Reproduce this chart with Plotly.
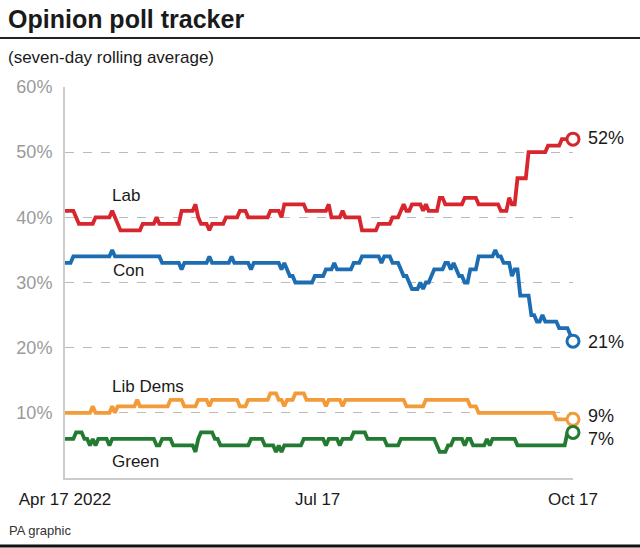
import pandas as pd
import plotly.graph_objects as go

# ---- data (seven-day rolling average, daily from 17 Apr 2022 to 17 Oct 2022) ----
start_date = "2022-04-17"
end_date = "2022-10-17"

lab = [
    41, 41, 41, 41, 40, 39, 39, 39, 39, 39,
    39, 40, 40, 40, 40, 40, 40, 41, 40, 39,
    38, 38, 38, 38, 38, 38, 38, 38, 39, 39,
    39, 39, 39, 40, 39, 39, 39, 39, 39, 39,
    39, 39, 41, 41, 41, 41, 41, 42, 40, 39,
    39, 39, 38, 39, 39, 39, 39, 39, 40, 40,
    40, 40, 40, 41, 41, 41, 40, 40, 40, 40,
    40, 40, 40, 40, 41, 41, 41, 41, 40, 42,
    42, 42, 42, 42, 42, 42, 42, 41, 41, 41,
    41, 41, 41, 41, 41, 42, 40, 40, 40, 40,
    41, 40, 40, 40, 40, 40, 40, 38, 38, 38,
    38, 38, 38, 39, 39, 39, 39, 39, 40, 40,
    40, 41, 42, 41, 41, 42, 42, 42, 42, 41,
    42, 41, 41, 41, 41, 43, 43, 42, 42, 42,
    42, 42, 42, 42, 43, 43, 43, 43, 43, 42,
    42, 42, 42, 42, 42, 42, 42, 41, 41, 41,
    43, 42, 42, 46, 46, 46, 46, 50, 50, 50,
    50, 50, 50, 50, 51, 51, 51, 51, 51, 52,
    52, 52, 52, 52,
]

con = [
    33, 33, 33, 34, 34, 34, 34, 34, 34, 34,
    34, 34, 34, 34, 34, 34, 34, 35, 34, 34,
    34, 34, 34, 34, 34, 34, 34, 34, 34, 34,
    34, 34, 34, 34, 34, 33, 33, 33, 33, 33,
    33, 33, 32, 33, 33, 33, 33, 33, 33, 33,
    33, 33, 34, 33, 33, 33, 33, 33, 33, 33,
    34, 33, 33, 33, 33, 33, 33, 32, 33, 33,
    33, 33, 33, 33, 33, 33, 33, 33, 32, 33,
    32, 31, 31, 30, 30, 30, 30, 30, 30, 30,
    31, 31, 31, 31, 32, 32, 32, 33, 32, 32,
    32, 32, 32, 32, 33, 33, 33, 34, 34, 34,
    34, 34, 34, 34, 33, 34, 34, 34, 33, 33,
    33, 32, 31, 31, 30, 29, 29, 29, 30, 29,
    30, 30, 31, 32, 32, 32, 32, 33, 33, 32,
    33, 32, 31, 31, 30, 30, 32, 32, 32, 34,
    34, 34, 34, 34, 34, 35, 34, 34, 33, 33,
    33, 31, 32, 32, 28, 28, 28, 28, 25, 25,
    24, 24, 25, 24, 24, 24, 24, 24, 23, 23,
    23, 23, 22, 21,
]

lib_dems = [
    10, 10, 10, 10, 10, 10, 10, 10, 10, 10,
    11, 10, 10, 10, 10, 10, 10, 11, 10, 11,
    11, 11, 11, 11, 11, 11, 12, 11, 11, 11,
    11, 11, 11, 11, 11, 11, 11, 11, 12, 12,
    12, 12, 12, 11, 11, 11, 11, 11, 12, 12,
    12, 12, 11, 12, 12, 12, 12, 12, 12, 12,
    12, 12, 12, 11, 11, 11, 12, 12, 12, 12,
    12, 12, 12, 12, 13, 13, 13, 12, 12, 11,
    12, 12, 12, 13, 13, 13, 13, 12, 12, 12,
    12, 12, 12, 12, 11, 12, 12, 12, 12, 12,
    11, 12, 12, 12, 12, 12, 12, 12, 12, 12,
    12, 12, 12, 12, 12, 12, 12, 12, 12, 12,
    12, 12, 12, 11, 11, 11, 11, 11, 11, 11,
    12, 12, 12, 12, 12, 12, 12, 12, 12, 12,
    12, 12, 12, 12, 12, 12, 11, 11, 11, 10,
    10, 10, 10, 10, 10, 10, 10, 10, 10, 10,
    10, 10, 10, 10, 10, 10, 10, 10, 10, 10,
    10, 10, 10, 10, 10, 10, 10, 9, 9, 9,
    9, 9, 9, 9,
]

green = [
    6, 6, 6, 6, 7, 7, 7, 6, 6, 5,
    6, 5, 6, 6, 6, 6, 5, 6, 6, 6,
    6, 6, 6, 6, 6, 6, 6, 6, 6, 6,
    6, 6, 6, 5, 5, 6, 6, 6, 6, 5,
    5, 5, 5, 5, 5, 5, 5, 4, 6, 7,
    7, 7, 7, 7, 6, 6, 5, 5, 5, 5,
    5, 5, 5, 5, 5, 5, 5, 6, 6, 6,
    6, 6, 5, 5, 5, 5, 4, 5, 4, 5,
    5, 5, 5, 5, 5, 5, 6, 6, 6, 6,
    6, 6, 6, 6, 5, 6, 6, 6, 6, 5,
    6, 6, 6, 6, 7, 7, 7, 7, 7, 6,
    6, 6, 6, 6, 6, 6, 5, 5, 5, 5,
    5, 6, 6, 6, 6, 6, 6, 6, 6, 6,
    6, 6, 6, 6, 5, 4, 4, 4, 5, 5,
    6, 6, 6, 6, 5, 6, 6, 5, 5, 5,
    5, 5, 6, 5, 6, 6, 6, 6, 6, 6,
    6, 6, 6, 5, 5, 5, 5, 5, 5, 5,
    5, 5, 5, 5, 5, 5, 5, 5, 5, 5,
    5, 7, 7, 7,
]

series_names = ["Lab", "Con", "Lib Dems", "Green"]
series_colors = ["#d7262e", "#1c6db2", "#f29b38", "#237a31"]
x_tick_dates = ["2022-04-17", "2022-07-17", "2022-10-17"]
x_tick_labels = ["Apr 17 2022", "Jul 17", "Oct 17"]
y_tick_vals = [10, 20, 30, 40, 50, 60]
y_tick_labels = ["10%", "20%", "30%", "40%", "50%", "60%"]

dates = pd.date_range(start_date, end_date, freq="D")
series_values = [lab, con, lib_dems, green]

FONT = "Liberation Sans, Arial, Helvetica, sans-serif"

# plot area in pixels
L, R, T, B = 65, 573, 87, 478
W, H = 640, 548


def px(p):
    return (p - L) / (R - L)


def py(p):
    return (B - p) / (B - T)


fig = go.Figure()
for name, vals, col in zip(series_names, series_values, series_colors):
    fig.add_trace(go.Scatter(
        x=dates, y=vals, mode="lines", name=name,
        line=dict(color=col, width=3.8, shape="linear"),
        cliponaxis=False, hoverinfo="skip",
    ))
    fig.add_trace(go.Scatter(
        x=[dates[-1]], y=[vals[-1]], mode="markers",
        marker=dict(symbol="circle", size=12, color="white",
                    line=dict(color=col, width=3)),
        cliponaxis=False, hoverinfo="skip",
    ))

annotations = []
# title, subtitle, source
annotations.append(dict(x=px(6), y=py(19), xref="paper", yref="paper",
                        text="<b>Opinion poll tracker</b>", showarrow=False,
                        xanchor="left", yanchor="middle",
                        font=dict(family=FONT, size=25, color="#1a1a1a")))
annotations.append(dict(x=px(6), y=py(57), xref="paper", yref="paper",
                        text="(seven-day rolling average)", showarrow=False,
                        xanchor="left", yanchor="middle",
                        font=dict(family=FONT, size=17, color="#1a1a1a")))
annotations.append(dict(x=px(7), y=py(530), xref="paper", yref="paper",
                        text="PA graphic", showarrow=False,
                        xanchor="left", yanchor="middle",
                        font=dict(family=FONT, size=13, color="#333333")))

# series labels
label_pos = {"Lab": (110, 195), "Con": (111, 270), "Lib Dems": (110, 386), "Green": (110, 461)}
for name in series_names:
    lx, ly = label_pos[name]
    annotations.append(dict(x=px(lx), y=py(ly), xref="paper", yref="paper",
                            text=name, showarrow=False, xanchor="left", yanchor="middle",
                            font=dict(family=FONT, size=17, color="#1a1a1a")))

# end value labels
end_label_y = {"Lab": 138, "Con": 342, "Lib Dems": 416, "Green": 439}
for name, vals in zip(series_names, series_values):
    annotations.append(dict(x=px(586), y=py(end_label_y[name]), xref="paper", yref="paper",
                            text=f"{vals[-1]}%", showarrow=False, xanchor="left", yanchor="middle",
                            font=dict(family=FONT, size=18, color="#1a1a1a")))

shapes = [
    dict(type="line", xref="paper", yref="paper", x0=px(0), x1=px(W), y0=py(38), y1=py(38),
         line=dict(color="#222222", width=2)),
    dict(type="line", xref="paper", yref="paper", x0=px(0), x1=px(W), y0=py(546), y1=py(546),
         line=dict(color="#111111", width=3)),
]

fig.update_layout(
    width=W, height=H,
    margin=dict(l=L, r=W - R, t=T, b=H - B, pad=0),
    paper_bgcolor="white", plot_bgcolor="white",
    showlegend=False,
    annotations=annotations, shapes=shapes,
    font=dict(family=FONT),
    xaxis=dict(
        range=[pd.Timestamp(start_date), pd.Timestamp(end_date)],
        tickvals=pd.to_datetime(x_tick_dates), ticktext=x_tick_labels,
        showgrid=False, zeroline=False,
        showline=True, linecolor="#cccccc", linewidth=2,
        ticks="outside", ticklen=5, tickcolor="rgba(0,0,0,0)",
        tickfont=dict(family=FONT, size=17, color="#1a1a1a"),
        fixedrange=True,
    ),
    yaxis=dict(
        range=[0, 60], tickvals=y_tick_vals, ticktext=y_tick_labels,
        showgrid=True, gridcolor="#bbbbbb", griddash="dash", gridwidth=1,
        zeroline=False,
        showline=True, linecolor="#cccccc", linewidth=2,
        ticks="outside", ticklen=7, tickcolor="rgba(0,0,0,0)",
        tickfont=dict(family=FONT, size=18, color="#9a9a9a"),
        fixedrange=True,
    ),
)

fig.write_html(
    "out.html",
    config={"displayModeBar": False, "staticPlot": True},
    post_script="document.body.style.margin='0';document.body.style.overflow='hidden';",
)
